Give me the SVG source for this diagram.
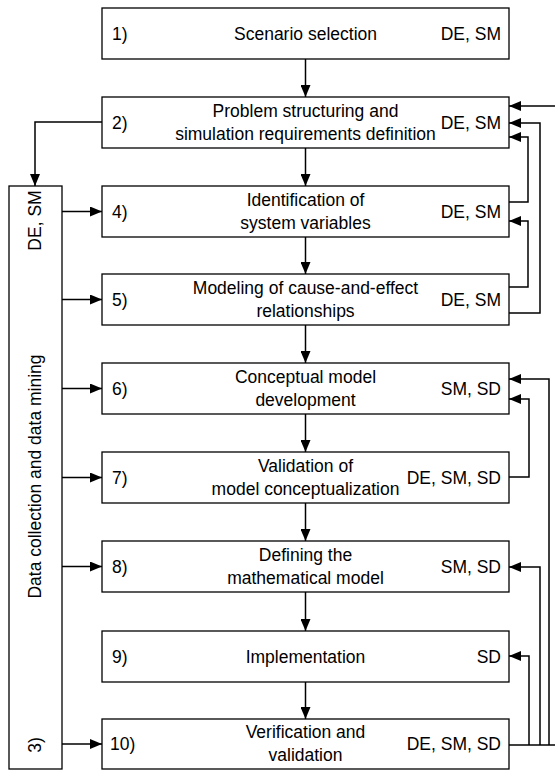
<svg xmlns="http://www.w3.org/2000/svg" width="555" height="771" viewBox="0 0 555 771">
<style>
  .box{fill:#fff;stroke:#000;stroke-width:1.3}
  .t{font-family:"Liberation Sans",Arial,sans-serif;font-size:17.5px;fill:#000}
  .m{text-anchor:middle}
  .e{text-anchor:end}
  .c{fill:none;stroke:#000;stroke-width:1.5;stroke-linejoin:miter}
</style>
<defs>
  <marker id="ah" viewBox="0 0 12 10" refX="12" refY="5" markerWidth="12" markerHeight="10" markerUnits="userSpaceOnUse" orient="auto">
    <path d="M0,0 L12,5 L0,10 z" fill="#000"/>
  </marker>
</defs>

<g id="connectors">
  <!-- main vertical flow -->
  <line class="c" x1="305.5" y1="59" x2="305.5" y2="97" marker-end="url(#ah)"/>
  <line class="c" x1="305.5" y1="148" x2="305.5" y2="186" marker-end="url(#ah)"/>
  <line class="c" x1="305.5" y1="237" x2="305.5" y2="274" marker-end="url(#ah)"/>
  <line class="c" x1="305.5" y1="325" x2="305.5" y2="363" marker-end="url(#ah)"/>
  <line class="c" x1="305.5" y1="414" x2="305.5" y2="452" marker-end="url(#ah)"/>
  <line class="c" x1="305.5" y1="503" x2="305.5" y2="541" marker-end="url(#ah)"/>
  <line class="c" x1="305.5" y1="592" x2="305.5" y2="631" marker-end="url(#ah)"/>
  <line class="c" x1="305.5" y1="682" x2="305.5" y2="719" marker-end="url(#ah)"/>
  <!-- box 2 to data collection -->
  <polyline class="c" points="102,122 35,122 35,186" marker-end="url(#ah)"/>
  <!-- data collection to boxes -->
  <line class="c" x1="62" y1="211.5" x2="102" y2="211.5" marker-end="url(#ah)"/>
  <line class="c" x1="62" y1="299.5" x2="102" y2="299.5" marker-end="url(#ah)"/>
  <line class="c" x1="62" y1="388.5" x2="102" y2="388.5" marker-end="url(#ah)"/>
  <line class="c" x1="62" y1="477.5" x2="102" y2="477.5" marker-end="url(#ah)"/>
  <line class="c" x1="62" y1="566.5" x2="102" y2="566.5" marker-end="url(#ah)"/>
  <line class="c" x1="62" y1="744" x2="102" y2="744" marker-end="url(#ah)"/>
  <!-- right side feedback -->
  <polyline class="c" points="509,202 528,202 528,137 509,137" marker-end="url(#ah)"/>
  <polyline class="c" points="509,287 528,287 528,221 509,221" marker-end="url(#ah)"/>
  <polyline class="c" points="509,313 540,313 540,123 509,123" marker-end="url(#ah)"/>
  <line class="c" x1="555" y1="106" x2="509" y2="106" marker-end="url(#ah)"/>
  <polyline class="c" points="509,477 529,477 529,399 509,399" marker-end="url(#ah)"/>
  <line class="c" x1="509" y1="745" x2="555" y2="745"/>
  <polyline class="c" points="549,745 549,379 509,379" marker-end="url(#ah)"/>
  <polyline class="c" points="540,745 540,567 509,567" marker-end="url(#ah)"/>
  <polyline class="c" points="529,745 529,656 509,656" marker-end="url(#ah)"/>
</g>

<g id="n3">
  <rect class="box" x="9" y="186" width="53" height="583"/>
  <text class="t m" transform="translate(41,220.5) rotate(-90)">DE, SM</text>
  <text class="t m" transform="translate(41,476.5) rotate(-90)">Data collection and data mining</text>
  <text class="t m" transform="translate(41,745) rotate(-90)">3)</text>
</g>

<g id="n1">
  <rect class="box" x="102" y="8" width="407" height="51"/>
  <text class="t" x="112" y="40">1)</text>
  <text class="t m" x="305.5" y="40">Scenario selection</text>
  <text class="t e" x="501" y="40">DE, SM</text>
</g>

<g id="n2">
  <rect class="box" x="102" y="97" width="407" height="51"/>
  <text class="t" x="112" y="129">2)</text>
  <text class="t m" x="305.5" y="117">Problem structuring and</text>
  <text class="t m" x="305.5" y="140">simulation requirements definition</text>
  <text class="t e" x="501" y="129">DE, SM</text>
</g>

<g id="n4">
  <rect class="box" x="102" y="186" width="407" height="51"/>
  <text class="t" x="112" y="218">4)</text>
  <text class="t m" x="305.5" y="206">Identification of</text>
  <text class="t m" x="305.5" y="229">system variables</text>
  <text class="t e" x="501" y="218">DE, SM</text>
</g>

<g id="n5">
  <rect class="box" x="102" y="274" width="407" height="51"/>
  <text class="t" x="112" y="306">5)</text>
  <text class="t m" x="305.5" y="294">Modeling of cause-and-effect</text>
  <text class="t m" x="305.5" y="317">relationships</text>
  <text class="t e" x="501" y="306">DE, SM</text>
</g>

<g id="n6">
  <rect class="box" x="102" y="363" width="407" height="51"/>
  <text class="t" x="112" y="395">6)</text>
  <text class="t m" x="305.5" y="383">Conceptual model</text>
  <text class="t m" x="305.5" y="406">development</text>
  <text class="t e" x="501" y="395">SM, SD</text>
</g>

<g id="n7">
  <rect class="box" x="102" y="452" width="407" height="51"/>
  <text class="t" x="112" y="484">7)</text>
  <text class="t m" x="305.5" y="472">Validation of</text>
  <text class="t m" x="305.5" y="495">model conceptualization</text>
  <text class="t e" x="501" y="484">DE, SM, SD</text>
</g>

<g id="n8">
  <rect class="box" x="102" y="541" width="407" height="51"/>
  <text class="t" x="112" y="573">8)</text>
  <text class="t m" x="305.5" y="561">Defining the</text>
  <text class="t m" x="305.5" y="584">mathematical model</text>
  <text class="t e" x="501" y="573">SM, SD</text>
</g>

<g id="n9">
  <rect class="box" x="102" y="631" width="407" height="51"/>
  <text class="t" x="112" y="663">9)</text>
  <text class="t m" x="305.5" y="663">Implementation</text>
  <text class="t e" x="501" y="663">SD</text>
</g>

<g id="n10">
  <rect class="box" x="102" y="719" width="407" height="50"/>
  <text class="t" x="110" y="750">10)</text>
  <text class="t m" x="305.5" y="738">Verification and</text>
  <text class="t m" x="305.5" y="761">validation</text>
  <text class="t e" x="501" y="750">DE, SM, SD</text>
</g>
</svg>
